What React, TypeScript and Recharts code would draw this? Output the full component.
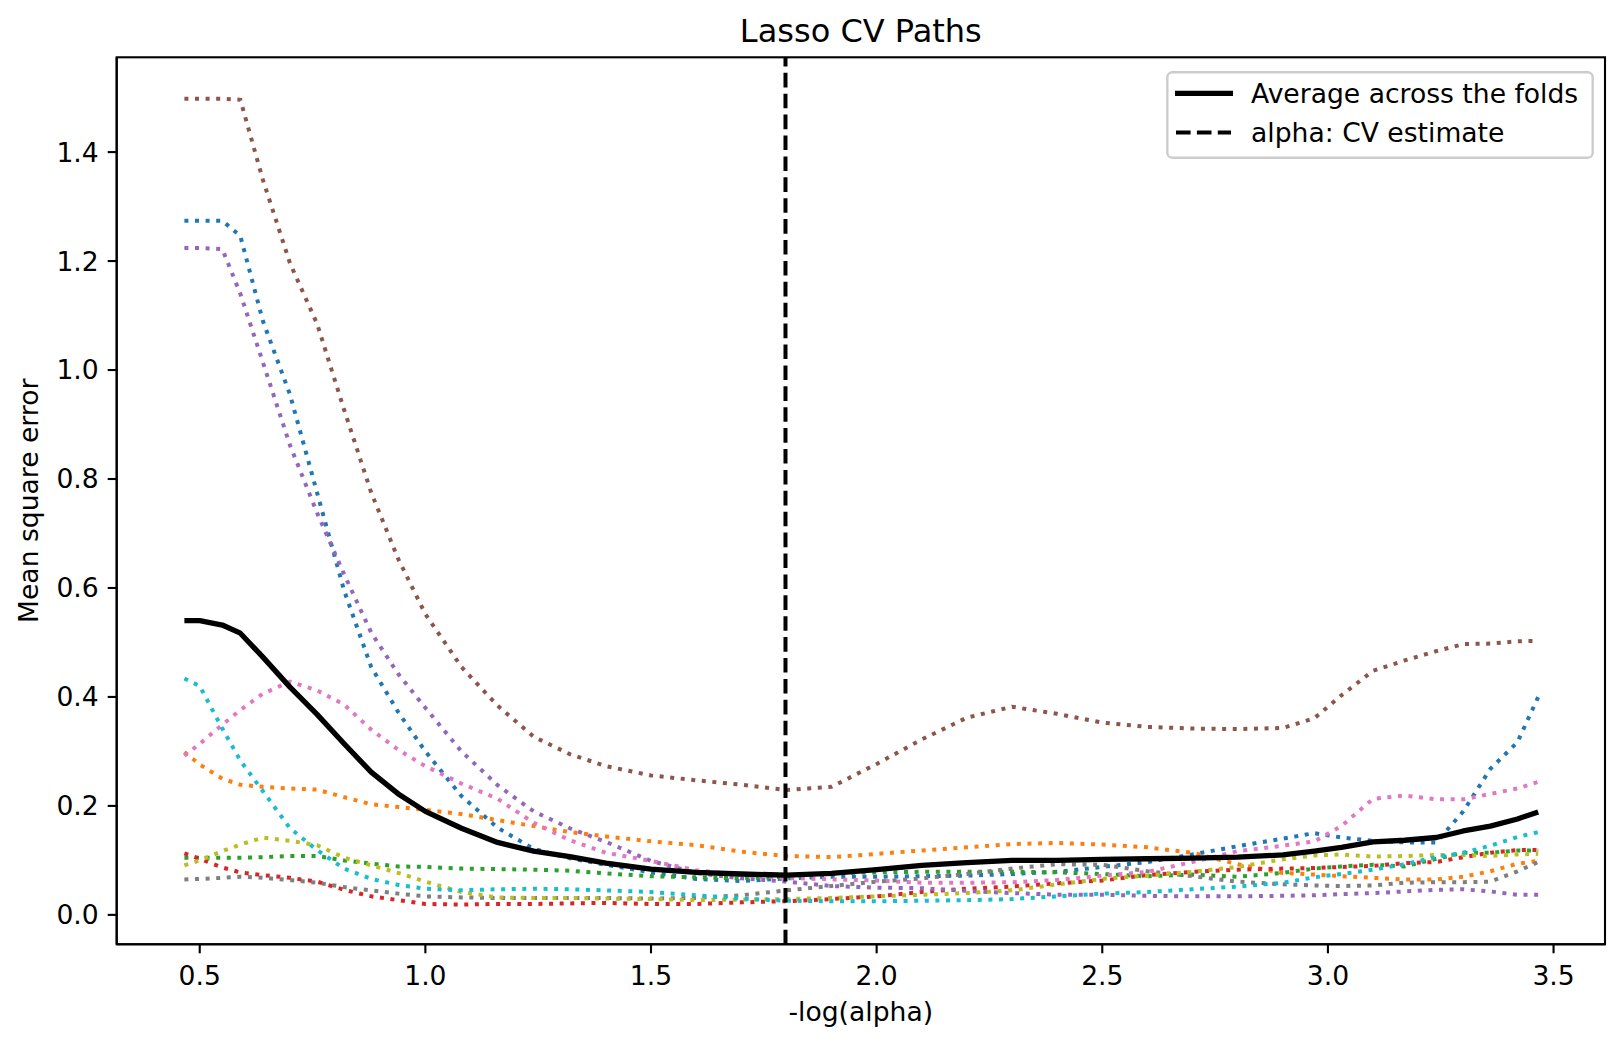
import React from 'react'
import { LineChart, Line, XAxis, YAxis, ReferenceLine } from 'recharts'

// -log10(alpha) positions the paths were read at
const NEG_LOG_ALPHAS = [
  0.466, 0.5, 0.55, 0.59, 0.64, 0.7, 0.76, 0.82, 0.88, 0.94,
  1.0, 1.08, 1.16, 1.24, 1.32, 1.4, 1.5, 1.6, 1.7, 1.8,
  1.9, 2.0, 2.1, 2.2, 2.3, 2.4, 2.5, 2.6, 2.7, 2.8,
  2.9, 2.97, 3.03, 3.1, 3.17, 3.24, 3.3, 3.36, 3.42, 3.466
]

// mean square error for each of the 10 folds
const FOLD_0 = [
  1.274, 1.274, 1.274, 1.246, 1.09, 0.955, 0.775, 0.595, 0.455, 0.372,
  0.3, 0.218, 0.16, 0.121, 0.104, 0.092, 0.078, 0.066, 0.062, 0.067,
  0.07, 0.07, 0.071, 0.072, 0.075, 0.079, 0.088, 0.097, 0.111, 0.126,
  0.14, 0.15, 0.142, 0.136, 0.133, 0.133, 0.19, 0.268, 0.317, 0.4
]
const FOLD_1 = [
  0.299, 0.276, 0.25, 0.239, 0.235, 0.232, 0.23, 0.216, 0.203, 0.198,
  0.193, 0.185, 0.174, 0.163, 0.152, 0.144, 0.135, 0.128, 0.116, 0.108,
  0.106, 0.112, 0.118, 0.124, 0.13, 0.132, 0.129, 0.124, 0.114, 0.093,
  0.077, 0.074, 0.071, 0.068, 0.065, 0.065, 0.07, 0.08, 0.094, 0.099
]
const FOLD_2 = [
  0.105, 0.105, 0.105, 0.105, 0.106, 0.108, 0.108, 0.1, 0.094, 0.089,
  0.088, 0.085, 0.084, 0.083, 0.081, 0.076, 0.071, 0.069, 0.067, 0.07,
  0.077, 0.078, 0.079, 0.079, 0.079, 0.078, 0.075, 0.071, 0.074, 0.07,
  0.077, 0.085, 0.089, 0.092, 0.089, 0.103, 0.114, 0.114, 0.118, 0.118
]
const FOLD_3 = [
  0.113, 0.103, 0.087, 0.078, 0.073, 0.068, 0.061, 0.046, 0.034, 0.027,
  0.02, 0.019, 0.02, 0.02, 0.021, 0.022, 0.02, 0.02, 0.023, 0.025,
  0.029, 0.034, 0.042, 0.048, 0.052, 0.058, 0.063, 0.073, 0.079, 0.083,
  0.085, 0.086, 0.088, 0.09, 0.095, 0.097, 0.106, 0.114, 0.119, 0.119
]
const FOLD_4 = [
  1.224, 1.224, 1.222, 1.14, 1.014, 0.862, 0.738, 0.625, 0.518, 0.442,
  0.38, 0.3, 0.238, 0.19, 0.159, 0.134, 0.099, 0.077, 0.067, 0.061,
  0.053, 0.05, 0.049, 0.044, 0.04, 0.037, 0.037, 0.035, 0.034, 0.034,
  0.035, 0.036, 0.038, 0.04, 0.043, 0.046, 0.047, 0.043, 0.037, 0.037
]
const FOLD_5 = [
  1.498, 1.498, 1.498, 1.496, 1.349, 1.196, 1.085, 0.927, 0.775, 0.653,
  0.552, 0.455, 0.384, 0.327, 0.295, 0.273, 0.256, 0.247, 0.239, 0.229,
  0.235, 0.277, 0.322, 0.362, 0.382, 0.369, 0.353, 0.345, 0.342, 0.341,
  0.343, 0.361, 0.403, 0.448, 0.467, 0.484, 0.497, 0.498, 0.502, 0.503
]
const FOLD_6 = [
  0.292, 0.314, 0.349, 0.376, 0.406, 0.428, 0.412, 0.386, 0.34, 0.303,
  0.273, 0.241, 0.213, 0.169, 0.137, 0.114, 0.099, 0.082, 0.073, 0.068,
  0.065, 0.063, 0.059, 0.059, 0.06, 0.064, 0.072, 0.079, 0.097, 0.117,
  0.127, 0.135, 0.163, 0.213, 0.219, 0.212, 0.212, 0.222, 0.232, 0.244
]
const FOLD_7 = [
  0.065, 0.066, 0.068, 0.07, 0.068, 0.064, 0.059, 0.051, 0.045, 0.039,
  0.034, 0.032, 0.031, 0.031, 0.031, 0.031, 0.03, 0.031, 0.036, 0.045,
  0.053, 0.061, 0.067, 0.075, 0.085, 0.093, 0.092, 0.08, 0.071, 0.061,
  0.056, 0.054, 0.053, 0.054, 0.059, 0.06, 0.06, 0.061, 0.08, 0.097
]
const FOLD_8 = [
  0.091, 0.1, 0.117, 0.129, 0.142, 0.136, 0.128, 0.105, 0.091, 0.077,
  0.061, 0.042, 0.032, 0.031, 0.031, 0.03, 0.029, 0.027, 0.028, 0.029,
  0.031, 0.034, 0.037, 0.04, 0.045, 0.056, 0.066, 0.072, 0.079, 0.088,
  0.102, 0.109, 0.111, 0.107, 0.108, 0.11, 0.11, 0.108, 0.111, 0.112
]
const FOLD_9 = [
  0.434, 0.42, 0.342, 0.283, 0.227, 0.159, 0.119, 0.085, 0.066, 0.055,
  0.048, 0.045, 0.047, 0.048, 0.047, 0.045, 0.042, 0.036, 0.03, 0.026,
  0.025, 0.025, 0.026, 0.027, 0.029, 0.034, 0.039, 0.042, 0.047, 0.052,
  0.059, 0.069, 0.075, 0.083, 0.093, 0.106, 0.114, 0.127, 0.143, 0.152
]

// average across the folds
const MEAN_MSE = [
  0.54, 0.54, 0.532, 0.517, 0.473, 0.418, 0.368, 0.314, 0.262, 0.222,
  0.19, 0.159, 0.133, 0.117, 0.107, 0.095, 0.084, 0.078, 0.075, 0.073,
  0.076, 0.083, 0.091, 0.096, 0.1, 0.1, 0.102, 0.103, 0.104, 0.106,
  0.11, 0.117, 0.124, 0.134, 0.137, 0.142, 0.154, 0.163, 0.176, 0.189
]

const ALPHA_CV = 1.798

const X_TICKS = [0.5, 1.0, 1.5, 2.0, 2.5, 3.0, 3.5]
const Y_TICKS = [0, 0.2, 0.4, 0.6, 0.8, 1.0, 1.2, 1.4]

const FOLDS = [FOLD_0, FOLD_1, FOLD_2, FOLD_3, FOLD_4, FOLD_5, FOLD_6, FOLD_7, FOLD_8, FOLD_9]
const FOLD_COLORS = [
  '#1f77b4', '#ff7f0e', '#2ca02c', '#d62728', '#9467bd',
  '#8c564b', '#e377c2', '#7f7f7f', '#bcbd22', '#17becf'
]

const FONT = "'DejaVu Sans', Verdana, sans-serif"

const data = NEG_LOG_ALPHAS.map((x, i) => {
  const row: Record<string, number> = { x, mean: MEAN_MSE[i] }
  FOLDS.forEach((fold, k) => {
    row[`fold${k}`] = fold[i]
  })
  return row
})

// plot box in page pixels
const PLOT = { left: 116.7, top: 57.3, right: 1605, bottom: 944.3 }

const axisStroke = { stroke: '#000', strokeWidth: 2.1 }
const tickStyle = { fontSize: 26.6, fill: '#000', fontFamily: FONT }

export default function App() {
  return (
    <div
      style={{
        position: 'absolute',
        left: 0,
        top: 0,
        width: 1624,
        height: 1046,
        background: '#fff',
        fontFamily: FONT
      }}
    >
      <LineChart
        width={1624}
        height={1046}
        data={data}
        margin={{ top: PLOT.top, right: 1624 - PLOT.right, bottom: 1046 - PLOT.bottom - 60, left: PLOT.left - 100 }}
      >
        <XAxis
          dataKey="x"
          type="number"
          domain={[0.316, 3.614]}
          ticks={X_TICKS}
          interval={0}
          tickFormatter={(v: number) => v.toFixed(1)}
          height={60}
          tick={tickStyle}
          tickSize={9}
          tickMargin={13}
          axisLine={axisStroke}
          tickLine={axisStroke}
          allowDataOverflow
        />
        <YAxis
          type="number"
          domain={[-0.054, 1.574]}
          ticks={Y_TICKS}
          interval={0}
          tickFormatter={(v: number) => v.toFixed(1)}
          width={100}
          tick={tickStyle}
          tickSize={9}
          tickMargin={9}
          axisLine={axisStroke}
          tickLine={axisStroke}
          allowDataOverflow
        />

        {FOLDS.map((_, k) => (
          <Line
            key={`fold-${k}`}
            type="linear"
            dataKey={`fold${k}`}
            stroke={FOLD_COLORS[k]}
            strokeWidth={4}
            strokeDasharray="4 6.6"
            strokeLinecap="butt"
            dot={false}
            activeDot={false}
            isAnimationActive={false}
          />
        ))}

        <Line
          type="linear"
          dataKey="mean"
          stroke="#000"
          strokeWidth={5.3}
          strokeLinejoin="round"
          dot={false}
          activeDot={false}
          isAnimationActive={false}
        />

        <ReferenceLine
          x={ALPHA_CV}
          stroke="#000"
          strokeWidth={4}
          strokeDasharray="14.6 6.3"
        />
      </LineChart>

      {/* frame, title, axis labels and legend */}
      <svg
        width={1624}
        height={1046}
        style={{ position: 'absolute', left: 0, top: 0, pointerEvents: 'none' }}
      >
        <rect
          x={PLOT.left}
          y={PLOT.top}
          width={PLOT.right - PLOT.left}
          height={PLOT.bottom - PLOT.top}
          fill="none"
          stroke="#000"
          strokeWidth={2.1}
        />
        <text x={860.8} y={42.3} textAnchor="middle" fontSize={32} fill="#000" fontFamily={FONT}>
          Lasso CV Paths
        </text>
        <text x={860.8} y={1021} textAnchor="middle" fontSize={26.6} fill="#000" fontFamily={FONT}>
          -log(alpha)
        </text>
        <text
          x={38}
          y={500.8}
          textAnchor="middle"
          fontSize={26.6}
          fill="#000"
          fontFamily={FONT}
          transform="rotate(-90 38 500.8)"
        >
          Mean square error
        </text>

        <rect
          x={1167.3}
          y={72.3}
          width={425.4}
          height={85.4}
          rx={5}
          fill="#fff"
          fillOpacity={0.8}
          stroke="#cccccc"
          strokeWidth={2.4}
        />
        <line x1={1175} y1={93.3} x2={1233} y2={93.3} stroke="#000" strokeWidth={5.3} />
        <text x={1251} y={102.5} fontSize={26.6} fill="#000" fontFamily={FONT}>
          Average across the folds
        </text>
        <line
          x1={1176}
          y1={132.5}
          x2={1231}
          y2={132.5}
          stroke="#000"
          strokeWidth={4}
          strokeDasharray="14.6 6.3"
        />
        <text x={1251} y={142} fontSize={26.6} fill="#000" fontFamily={FONT}>
          alpha: CV estimate
        </text>
      </svg>
    </div>
  )
}
